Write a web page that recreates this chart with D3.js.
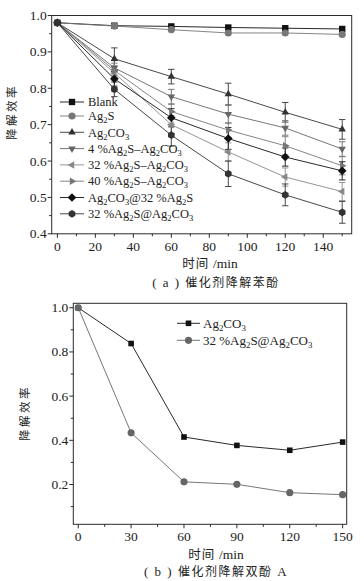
<!DOCTYPE html>
<html><head><meta charset="utf-8">
<script src="https://cdn.jsdelivr.net/npm/d3@7"></script>
<style>body{margin:0;background:#fff}svg{display:block}.sf{font-family:"Liberation Serif","Times New Roman","DejaVu Serif",serif}.cj{font-family:"Noto Sans CJK SC","Noto Sans",sans-serif}</style>
</head><body><svg id="c" width="364" height="581"></svg>
<script>
// ---------- data: panel (a) phenol ----------
const timesA = [0, 30, 60, 90, 120, 150];
const seriesNamesA = ["Blank", "Ag2S", "Ag2CO3", "4 %Ag2S–Ag2CO3", "32 %Ag2S–Ag2CO3", "40 %Ag2S–Ag2CO3", "Ag2CO3@32 %Ag2S", "32 %Ag2S@Ag2CO3"];
const blank      = [0.98, 0.972, 0.970, 0.967, 0.965, 0.963];
const ag2s       = [0.98, 0.971, 0.961, 0.952, 0.952, 0.948];
const ag2co3     = [0.98, 0.881, 0.832, 0.784, 0.734, 0.687];
const p4         = [0.98, 0.856, 0.777, 0.729, 0.691, 0.633];
const p32        = [0.98, 0.842, 0.700, 0.625, 0.556, 0.516];
const p40        = [0.98, 0.849, 0.736, 0.685, 0.642, 0.587];
const core32     = [0.98, 0.826, 0.719, 0.662, 0.611, 0.573];
const shell32    = [0.98, 0.797, 0.671, 0.565, 0.507, 0.459];
const errBlank   = [0, 0, 0, 0, 0, 0];
const errAg2s    = [0, 0, 0, 0, 0, 0];
const errAg2co3  = [0, 0.030, 0.020, 0.030, 0.027, 0.027];
const errP4      = [0, 0.020, 0.020, 0.025, 0.020, 0.020];
const errP32     = [0, 0.020, 0.025, 0.025, 0.025, 0.025];
const errP40     = [0, 0.020, 0.020, 0.020, 0.025, 0.025];
const errCore32  = [0, 0.020, 0.025, 0.030, 0.025, 0.025];
const errShell32 = [0, 0.020, 0.030, 0.035, 0.030, 0.030];
const xTicksA = [0, 20, 40, 60, 80, 100, 120, 140];
const yTicksA = [0.4, 0.5, 0.6, 0.7, 0.8, 0.9, 1.0];

// ---------- data: panel (b) bisphenol A ----------
const timesB = [0, 30, 60, 90, 120, 150];
const seriesNamesB = ["Ag2CO3", "32 %Ag2S@Ag2CO3"];
const bAg2co3  = [1.0, 0.838, 0.415, 0.377, 0.355, 0.392];
const bShell32 = [1.0, 0.434, 0.212, 0.201, 0.163, 0.154];
const xTicksB = [0, 30, 60, 90, 120, 150];
const yTicksB = [0.2, 0.4, 0.6, 0.8, 1.0];

const labelY = "降解效率";
const captionA = "(a) 催化剂降解苯酚";
const captionB = "(b) 催化剂降解双酚 A";

// ---------- drawing ----------
const svg = d3.select("#c");
const AX = "#2a2a2a";

function richText(sel, str, size) {
  // digits directly after a letter become subscripts
  const parts = [];
  for (let i = 0; i < str.length; i++) {
    const ch = str[i];
    const sub = /[0-9]/.test(ch) && i > 0 && /[A-Za-z]/.test(str[i - 1]);
    if (parts.length && parts[parts.length - 1].sub === sub) parts[parts.length - 1].t += ch;
    else parts.push({ t: ch, sub });
  }
  let prevSub = false;
  parts.forEach(p => {
    const ts = sel.append("tspan").text(p.t).attr("font-size", p.sub ? size * 0.68 : size);
    if (p.sub && !prevSub) ts.attr("dy", 3);
    if (!p.sub && prevSub) ts.attr("dy", -3);
    prevSub = p.sub;
  });
}

function polygonPath(n, r, rot) {
  const pts = d3.range(n).map(i => {
    const a = rot + i * 2 * Math.PI / n;
    return [r * Math.cos(a), r * Math.sin(a)];
  });
  return "M" + pts.map(p => p.join(",")).join("L") + "Z";
}
function markerPath(kind, s) {
  switch (kind) {
    case "square": return `M${-s},${-s}H${s}V${s}H${-s}Z`;
    case "circle": return d3.symbol(d3.symbolCircle, Math.PI * s * s * 1.25)();
    case "up": return polygonPath(3, s * 1.35, -Math.PI / 2);
    case "down": return polygonPath(3, s * 1.35, Math.PI / 2);
    case "left": return polygonPath(3, s * 1.35, Math.PI);
    case "right": return polygonPath(3, s * 1.35, 0);
    case "diamond": return polygonPath(4, s * 1.35, -Math.PI / 2);
    case "hex": return polygonPath(6, s * 1.2, Math.PI / 6);
  }
}

function drawFrame(x, y, xTicks, yTicks, xMinor, yMinor, yFmt) {
  const [x0, x1] = x.range(), [y0, y1] = y.range();
  const g = svg.append("g");
  g.append("rect").attr("x", x0).attr("y", y1).attr("width", x1 - x0).attr("height", y0 - y1)
    .attr("fill", "none").attr("stroke", AX).attr("stroke-width", 1);
  xTicks.forEach(t => {
    g.append("line").attr("x1", x(t)).attr("x2", x(t)).attr("y1", y0).attr("y2", y0 + 4).attr("stroke", AX);
    g.append("text").attr("class", "sf").attr("x", x(t)).attr("y", y0 + 17).attr("text-anchor", "middle")
      .attr("font-size", 13.5).attr("fill", "#222").text(t);
  });
  xMinor.forEach(t => g.append("line").attr("x1", x(t)).attr("x2", x(t)).attr("y1", y0).attr("y2", y0 + 2.5).attr("stroke", AX));
  yTicks.forEach(t => {
    g.append("line").attr("x1", x0).attr("x2", x0 - 4).attr("y1", y(t)).attr("y2", y(t)).attr("stroke", AX);
    g.append("text").attr("class", "sf").attr("x", x0 - 5).attr("y", y(t) + 4.5).attr("text-anchor", "end")
      .attr("font-size", 13.5).attr("fill", "#222").text(yFmt(t));
  });
  yMinor.forEach(t => g.append("line").attr("x1", x0).attr("x2", x0 - 2.5).attr("y1", y(t)).attr("y2", y(t)).attr("stroke", AX));
}

function drawTitles(cx, cy, ylx, yly) {
  svg.append("text").attr("class", "cj").attr("transform", `translate(${ylx},${yly}) rotate(-90)`).attr("text-anchor", "middle")
    .attr("font-size", 11.5).attr("letter-spacing", 2.5).attr("fill", "#222").text(labelY);
  const t = svg.append("text").attr("x", cx).attr("y", cy).attr("text-anchor", "middle")
    .attr("font-size", 12.5).attr("fill", "#222");
  t.append("tspan").attr("class", "cj").attr("letter-spacing", 1).text("时间 ");
  t.append("tspan").attr("class", "sf").attr("font-size", 13.5).text("/min");
}
function drawCaption(str, cx, cy) {
  const t = svg.append("text").attr("x", cx).attr("y", cy).attr("text-anchor", "middle")
    .attr("font-size", 12).attr("fill", "#222").attr("letter-spacing", 1.5);
  const m = str.match(/^(\([ab]\))(.*?)( A)?$/);
  t.append("tspan").attr("class", "sf").attr("font-size", 13).text(m[1].replace("(", "( ").replace(")", " )") + " ");
  t.append("tspan").attr("class", "cj").text(m[2].trim());
  if (m[3]) t.append("tspan").attr("class", "sf").attr("font-size", 13).text(m[3]);
}

// ---- Panel (a)
const xA = d3.scaleLinear().domain([-3, 155]).range([51.7, 351.7]);
const yA = d3.scaleLinear().domain([0.4, 1.0]).range([233.8, 15.5]);
drawFrame(xA, yA, xTicksA, yTicksA, d3.range(10, 155, 20), d3.range(0.45, 1.0, 0.1), d3.format(".1f"));

const seriesA = [
  { v: blank, e: errBlank, m: "square", c: "#111" },
  { v: ag2s, e: errAg2s, m: "circle", c: "#777" },
  { v: ag2co3, e: errAg2co3, m: "up", c: "#333" },
  { v: p4, e: errP4, m: "down", c: "#666" },
  { v: p32, e: errP32, m: "left", c: "#888" },
  { v: p40, e: errP40, m: "right", c: "#777" },
  { v: core32, e: errCore32, m: "diamond", c: "#111" },
  { v: shell32, e: errShell32, m: "hex", c: "#333" },
];
const lineA = d3.line().x((d, i) => xA(timesA[i])).y(d => yA(d));
const gA = svg.append("g");
seriesA.forEach(s => {
  gA.append("path").attr("d", lineA(s.v)).attr("fill", "none").attr("stroke", s.c).attr("stroke-width", 0.9);
});
seriesA.forEach(s => {
  s.v.forEach((v, i) => {
    if (!s.e[i]) return;
    const x = xA(timesA[i]), ya = yA(v + s.e[i]), yb = yA(v - s.e[i]);
    gA.append("line").attr("x1", x).attr("x2", x).attr("y1", ya).attr("y2", yb).attr("stroke", s.c).attr("stroke-width", 0.9);
    [ya, yb].forEach(yy => gA.append("line").attr("x1", x - 3.2).attr("x2", x + 3.2).attr("y1", yy).attr("y2", yy).attr("stroke", s.c).attr("stroke-width", 0.9));
  });
});
seriesA.forEach(s => {
  s.v.forEach((v, i) => {
    gA.append("path").attr("d", markerPath(s.m, 3.2)).attr("transform", `translate(${xA(timesA[i])},${yA(v)})`).attr("fill", s.c);
  });
});
// legend (a)
const legA = svg.append("g");
seriesNamesA.forEach((name, i) => {
  const s = seriesA[i];
  const y = i === 0 ? 102 : 116 + (i - 1) * 16.3;
  legA.append("line").attr("x1", 60).attr("x2", 84).attr("y1", y).attr("y2", y).attr("stroke", s.c).attr("stroke-width", 0.9);
  legA.append("path").attr("d", markerPath(s.m, 3.2)).attr("transform", `translate(72,${y})`).attr("fill", s.c);
  const t = legA.append("text").attr("class", "sf").attr("x", 88).attr("y", y + 4.2).attr("fill", "#222");
  richText(t, name, 12.5);
});
drawTitles(210, 268, 16, 112);
drawCaption(captionA, 216, 287);

// ---- Panel (b)
const xB = d3.scaleLinear().domain([-2.8, 152.3]).range([73.3, 346.7]);
const yB = d3.scaleLinear().domain([0.02, 1.02]).range([524.3, 303.3]);
drawFrame(xB, yB, xTicksB, yTicksB, d3.range(15, 150, 30), d3.range(0.1, 1.0, 0.2), d3.format(".1f"));
const seriesB = [
  { v: bAg2co3, m: "square", c: "#111", s: 2.8 },
  { v: bShell32, m: "circle", c: "#666", s: 3.2 },
];
const lineB = d3.line().x((d, i) => xB(timesB[i])).y(d => yB(d));
seriesB.forEach(s => {
  svg.append("path").attr("d", lineB(s.v)).attr("fill", "none").attr("stroke", s.c).attr("stroke-width", 0.9);
});
seriesB.forEach(s => {
  s.v.forEach((v, i) => svg.append("path").attr("d", markerPath(s.m, s.s)).attr("transform", `translate(${xB(timesB[i])},${yB(v)})`).attr("fill", s.c));
});
seriesNamesB.forEach((name, i) => {
  const s = seriesB[i];
  const y = 323.3 + i * 17;
  svg.append("line").attr("x1", 177).attr("x2", 200).attr("y1", y).attr("y2", y).attr("stroke", s.c).attr("stroke-width", 0.9);
  svg.append("path").attr("d", markerPath(s.m, s.s)).attr("transform", `translate(188.5,${y})`).attr("fill", s.c);
  const t = svg.append("text").attr("class", "sf").attr("x", 203).attr("y", y + 4.5).attr("fill", "#222");
  richText(t, name, 13);
});
drawTitles(216, 559, 29, 413);
drawCaption(captionB, 216, 576);
</script></body></html>
